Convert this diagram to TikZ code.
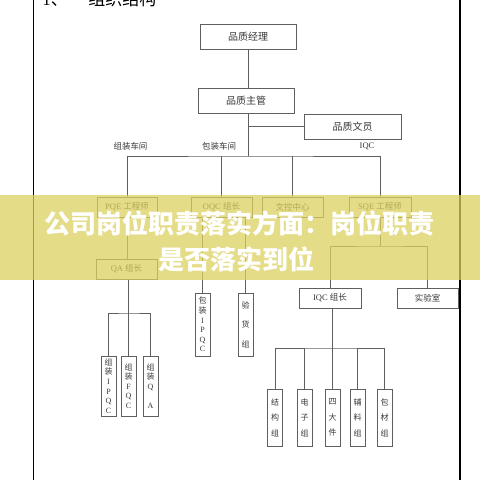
\documentclass[tikz,border=0pt]{standalone}
\usepackage{fontspec}
\setmainfont{Liberation Serif}
\newfontfamily\cjk{Noto Sans CJK SC}
\newcommand{\zh}[1]{{\cjk #1}}
\definecolor{linec}{RGB}{95,95,95}
\definecolor{textc}{RGB}{55,55,55}
\definecolor{bannerc}{RGB}{219,208,95}

\begin{document}
\begin{tikzpicture}[x=1pt,y=-1pt,line width=0.7pt,
    conn/.style={draw=linec},
    box/.style={draw=linec,text=textc,inner sep=0pt,font=\fontsize{8.5}{10}\selectfont},
    topbox/.style={box,minimum width=96,minimum height=25,font=\fontsize{10}{12}\selectfont},
    rowbox/.style={box,minimum width=61,minimum height=20},
    vbox/.style={box,align=center,minimum width=15,font=\fontsize{8}{9.6}\selectfont},
    lbl/.style={text=textc,inner sep=0pt,font=\fontsize{8.5}{10}\selectfont}]
    \useasboundingbox (0,0) rectangle (480,480);
    \clip (0,0) rectangle (480,480);
    % page frame and heading
    \draw[line width=1.2pt] (33.5,0) -- (33.5,480);
    \draw[line width=2pt] (459.5,0) -- (459.5,480);
    \node[anchor=base west,inner sep=0pt,font=\fontsize{17}{17}\selectfont] (num) at (42,5) {1\zh{、}};
    \node[anchor=base west,inner sep=0pt,font=\fontsize{17}{17}\selectfont] (title) at (88,5) {\zh{组织结构}};
    % top levels
    \node[topbox] (mgr) at (248,36.5) {\zh{品质经理}};
    \node[topbox] (sup) at (246,100.5) {\zh{品质主管}};
    \node[topbox,minimum width=97] (clerk) at (352.5,126.5) {\zh{品质文员}};
    \node[lbl] (lblasm) at (130.5,146) {\zh{组装车间}};
    \node[lbl] (lblpack) at (219,146) {\zh{包装车间}};
    \node[lbl] (lbliqc) at (367,146) {IQC};
    % second row
    \node[rowbox,minimum width=60] (pqe) at (127,207) {PQE \zh{工程师}};
    \node[rowbox] (oqc) at (221.5,207) {OQC \zh{组长}};
    \node[rowbox] (doc) at (292.5,207) {\zh{文控中心}};
    \node[rowbox,minimum width=62] (sqe) at (380,207) {SQE \zh{工程师}};
    \node[rowbox] (qa) at (126.5,269) {QA \zh{组长}};
    \node[rowbox,minimum width=62] (iqc) at (330,298) {IQC \zh{组长}};
    \node[rowbox] (lab) at (427.5,298) {\zh{实验室}};
    % vertical boxes
    \node[vbox,minimum height=63] (pack) at (202.5,324.5) {\zh{包}\\\zh{装}\\I\\P\\Q\\C};
    \node[vbox,minimum height=63,font=\fontsize{8}{19.5}\selectfont] (insp) at (245.5,324.5) {\zh{验}\\\zh{货}\\\zh{组}};
    \node[vbox,minimum height=60] (ipqc) at (108.5,386) {\zh{组}\\\zh{装}\\I\\P\\Q\\C};
    \node[vbox,minimum height=60] (fqc) at (128.5,386) {\zh{组}\\\zh{装}\\F\\Q\\C};
    \node[vbox,minimum height=60] (qaqa) at (150.5,386) {\zh{组}\\\zh{装}\\Q\\\strut\\A};
    \node[vbox,minimum height=57,font=\fontsize{8}{15.5}\selectfont] (struct) at (275,417.5) {\zh{结}\\\zh{构}\\\zh{组}};
    \node[vbox,minimum height=57,font=\fontsize{8}{15.5}\selectfont] (elec) at (304.5,417.5) {\zh{电}\\\zh{子}\\\zh{组}};
    \node[vbox,minimum height=57,font=\fontsize{8}{15.5}\selectfont] (four) at (332.5,417.5) {\zh{四}\\\zh{大}\\\zh{件}};
    \node[vbox,minimum height=57,font=\fontsize{8}{15.5}\selectfont] (aux) at (357.5,417.5) {\zh{辅}\\\zh{料}\\\zh{组}};
    \node[vbox,minimum height=57,font=\fontsize{8}{15.5}\selectfont] (pkg) at (384.5,417.5) {\zh{包}\\\zh{材}\\\zh{组}};
    % connectors
    \coordinate (hub) at (248,156);
    \draw[conn] (mgr.south) -- (mgr.south |- sup.north);
    \draw[conn] (mgr.south |- sup.south) -- (hub);
    \draw[conn] (mgr.south |- clerk.west) -- (clerk.west);
    \draw[conn] (pqe.north) |- (hub) -| (sqe.north);
    \draw[conn] (oqc.north) -- (oqc.north |- hub);
    \draw[conn] (doc.north) -- (doc.north |- hub);
    \draw[conn] (pqe.south) -- (pqe.south |- qa.north);
    \draw[conn] (pack.north |- oqc.south) -- (pack.north);
    \draw[conn] (insp.north |- oqc.south) -- (insp.north);
    \coordinate (qabus) at (128.5,313);
    \draw[conn] (fqc.north |- qa.south) -- (fqc.north);
    \draw[conn] (ipqc.north) |- (qabus) -| (qaqa.north);
    \coordinate (sqebus) at (380,246);
    \draw[conn] (sqe.south) -- (sqebus);
    \draw[conn] (iqc.north) |- (sqebus) -| (lab.north);
    \coordinate (iqcbus) at (332.5,348);
    \draw[conn] (four.north |- iqc.south) -- (four.north);
    \draw[conn] (struct.north) |- (iqcbus) -| (pkg.north);
    \draw[conn] (elec.north) -- (elec.north |- iqcbus);
    \draw[conn] (aux.north) -- (aux.north |- iqcbus);
    % banner
    \fill[bannerc,opacity=0.75] (0,195) rectangle (480,280);
    \node[text=white,inner sep=0pt,font=\cjk\bfseries\fontsize{26}{26}\selectfont] (head1) at (240,223) {公司岗位职责落实方面：岗位职责};
    \node[text=white,inner sep=0pt,font=\cjk\bfseries\fontsize{26}{26}\selectfont] (head2) at (236,259) {是否落实到位};
\end{tikzpicture}
\end{document}
